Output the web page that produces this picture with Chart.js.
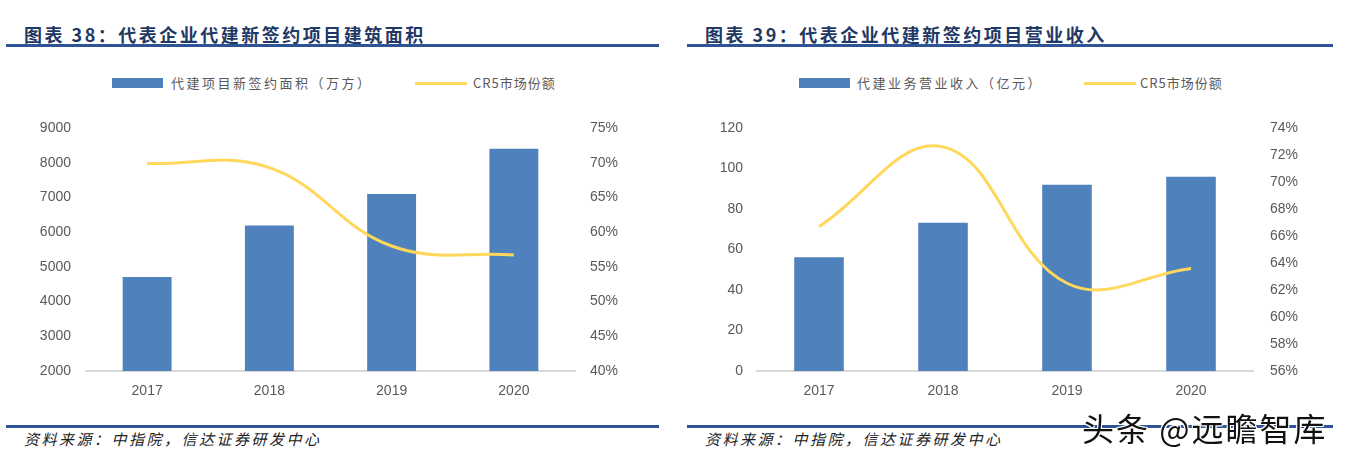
<!DOCTYPE html>
<html>
<head>
<meta charset="utf-8">
<script src="https://cdn.jsdelivr.net/npm/chart.js@4/dist/chart.umd.min.js"></script>
<style>
    body { margin: 0; background: #fff; width: 1345px; height: 461px; overflow: hidden; position: relative; font-family: "Noto Sans CJK SC", sans-serif; }
    .title { position: absolute; top: 21px; font-size: 18px; font-weight: bold; color: #1F3864; letter-spacing: 2.5px; white-space: nowrap; }
    .rule { position: absolute; height: 3px; background: #2F5496; }
    .legend { position: absolute; top: 73px; font-size: 13px; color: #595959; letter-spacing: 2.5px; white-space: nowrap; line-height: 20px; }
    .swatch { position: absolute; top: 78px; width: 51px; height: 10px; background: #4F81BD; }
    .lineswatch { position: absolute; top: 82px; width: 52px; height: 3px; background: #FFD75A; }
    .src { position: absolute; top: 428px; font-size: 15px; font-style: italic; color: #222; letter-spacing: 2.5px; white-space: nowrap; }
    .wm { position: absolute; left: 1082px; top: 404px; font-size: 32px; letter-spacing: 2px; color: #111; white-space: nowrap;
          text-shadow: 1px 1px 0 #fff, -1px -1px 0 #fff, 1px -1px 0 #fff, -1px 1px 0 #fff; }
    canvas { position: absolute; }
</style>
</head>
<body>

<div class="title" style="left:24px">图表 38：代表企业代建新签约项目建筑面积</div>
<div class="rule" style="left:6px; width:653px; top:44px"></div>
<div class="swatch" style="left:112px"></div>
<div class="legend" style="left:171px">代建项目新签约面积（万方）</div>
<div class="lineswatch" style="left:415px"></div>
<div class="legend" style="left:473px; letter-spacing:1px">CR5市场份额</div>
<canvas id="left-chart" style="left:0; top:100px"></canvas>
<div class="rule" style="left:6px; width:653px; top:425px"></div>
<div class="src" style="left:24px">资料来源：中指院，信达证券研发中心</div>

<div class="title" style="left:705px">图表 39：代表企业代建新签约项目营业收入</div>
<div class="rule" style="left:687px; width:646px; top:44px"></div>
<div class="swatch" style="left:799px"></div>
<div class="legend" style="left:857px">代建业务营业收入（亿元）</div>
<div class="lineswatch" style="left:1084px"></div>
<div class="legend" style="left:1140px; letter-spacing:1px">CR5市场份额</div>
<canvas id="right-chart" style="left:670px; top:100px"></canvas>
<div class="rule" style="left:687px; width:646px; top:425px"></div>
<div class="src" style="left:705px">资料来源：中指院，信达证券研发中心</div>

<div class="wm">头条 @远瞻智库</div>

<script>
const YEARS = ['2017', '2018', '2019', '2020'];

// 图表38
const AREA = [4710, 6190, 7100, 8400];      // 万方
const AREA_CR5 = [69.9, 69.3, 58.0, 56.7];  // %

// 图表39
const REVENUE = [56.2, 73.2, 92.0, 95.9];    // 亿元
const REVENUE_CR5 = [66.7, 72.6, 62.5, 63.6]; // %

const BAR_COLOR = '#4F81BD';
const LINE_COLOR = '#FFD75A';
const TICK_FONT = { family: 'Liberation Sans', size: 14 };
const TICK_COLOR = '#595959';

function makeChart(id, w, h, bars, line, left, right, sizes) {
    const ctx = document.getElementById(id);
    ctx.width = w;
    ctx.height = h;
    ctx.style.width = w + 'px';
    ctx.style.height = h + 'px';

    return new Chart(ctx, {
        type: 'bar',
        data: {
            labels: YEARS,
            datasets: [
                {
                    type: 'line',
                    data: line,
                    yAxisID: 'y1',
                    borderColor: LINE_COLOR,
                    borderWidth: 3,
                    pointRadius: 0,
                    tension: 0.4,
                    fill: false,
                    order: 0,
                },
                {
                    data: bars,
                    yAxisID: 'y',
                    backgroundColor: BAR_COLOR,
                    categoryPercentage: 1,
                    barPercentage: 0.4,
                    order: 1,
                },
            ],
        },
        options: {
            responsive: false,
            animation: false,
            layout: { padding: { top: 28, left: 0, right: 0, bottom: 0 } },
            plugins: { legend: { display: false }, tooltip: { enabled: false } },
            scales: {
                x: {
                    grid: { display: false, drawTicks: false },
                    border: { display: true, color: '#D9D9D9', width: 2 },
                    ticks: { color: TICK_COLOR, font: TICK_FONT, padding: 12 },
                    afterFit: (s) => { s.height = sizes.xh; },
                },
                y: {
                    position: 'left',
                    min: left.min, max: left.max,
                    grid: { display: false, drawTicks: false },
                    border: { display: false },
                    ticks: {
                        stepSize: left.step, color: TICK_COLOR, font: TICK_FONT, padding: sizes.lp,
                        callback: (v) => String(v),
                    },
                    afterFit: (s) => { s.width = sizes.lw; },
                },
                y1: {
                    position: 'right',
                    min: right.min, max: right.max,
                    grid: { display: false, drawTicks: false },
                    border: { display: false },
                    ticks: {
                        stepSize: right.step, color: TICK_COLOR, font: TICK_FONT, padding: sizes.rp,
                        callback: (v) => v + '%',
                    },
                    afterFit: (s) => { s.width = sizes.rw; },
                },
            },
        },
    });
}

makeChart('left-chart', 670, 320, AREA, AREA_CR5,
    { min: 2000, max: 9000, step: 1000 },
    { min: 40, max: 75, step: 5 },
    { xh: 49, lw: 86, lp: 15, rw: 95, rp: 15 });

makeChart('right-chart', 675, 320, REVENUE, REVENUE_CR5,
    { min: 0, max: 120, step: 20 },
    { min: 56, max: 74, step: 2 },
    { xh: 49, lw: 87, lp: 14, rw: 92, rp: 17 });
</script>
</body>
</html>
